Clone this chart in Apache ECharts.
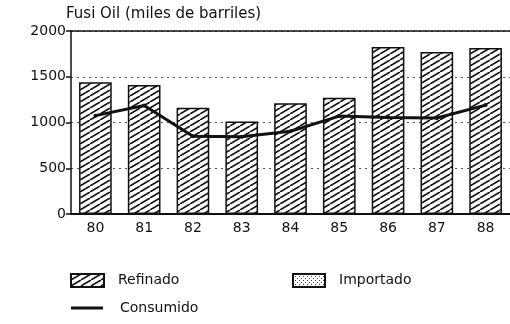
<!DOCTYPE html>
<html>
<head>
<meta charset="utf-8">
<script src="https://cdn.jsdelivr.net/npm/echarts@6/dist/echarts.min.js"></script>
<style>
  html, body { margin: 0; padding: 0; background: #fff; }
  #chart { width: 510px; height: 324px; }
</style>
</head>
<body>
<div id="chart"></div>
<script>
// Fuel oil, thousands of barrels, 1980-1988
const years = ['80', '81', '82', '83', '84', '85', '86', '87', '88'];
const refinado = [1440, 1410, 1160, 1010, 1210, 1270, 1825, 1770, 1815];
const importado = [null, null, null, null, null, null, null, null, null];
const consumido = [1075, 1185, 850, 845, 905, 1070, 1055, 1050, 1190];
const yTicks = [0, 500, 1000, 1500, 2000];

const FONT = 'DejaVu Sans';

// Diagonal hatch tile for the refined bars
function hatchPattern() {
  const c = document.createElement('canvas');
  const w = 10, h = 6;
  c.width = w; c.height = h;
  const g = c.getContext('2d');
  g.fillStyle = '#fff';
  g.fillRect(0, 0, w, h);
  g.strokeStyle = '#111';
  g.lineWidth = 1.6;
  for (const dx of [-w, 0, w]) {
    g.beginPath();
    g.moveTo(dx, h);
    g.lineTo(dx + w, 0);
    g.stroke();
  }
  return c;
}

// Sparse dot tile for the imported bars
function dotPattern() {
  const c = document.createElement('canvas');
  c.width = 4; c.height = 4;
  const g = c.getContext('2d');
  g.fillStyle = '#fff';
  g.fillRect(0, 0, 4, 4);
  g.fillStyle = '#444';
  g.fillRect(0, 0, 1, 1);
  g.fillRect(2, 2, 1, 1);
  return c;
}

const hatch = { image: hatchPattern(), repeat: 'repeat' };
const dots = { image: dotPattern(), repeat: 'repeat' };

const chart = echarts.init(document.getElementById('chart'), null, { renderer: 'canvas' });

const legendText = { fontFamily: FONT, fontSize: 14, color: '#111', padding: [0, 0, 0, 9] };

chart.setOption({
  animation: false,
  backgroundColor: '#fff',
  title: {
    text: 'Fusi Oil (miles de barriles)',
    left: 66, top: 7, padding: 0,
    textStyle: { fontFamily: FONT, fontSize: 15, fontWeight: 'normal', color: '#111' }
  },
  legend: [
    { data: [{ name: 'Refinado', icon: 'rect' }], left: 70, top: 273, padding: 0,
      itemWidth: 33, itemHeight: 13, textStyle: legendText },
    { data: [{ name: 'Importado', icon: 'rect' }], left: 292, top: 273, padding: 0,
      itemWidth: 32, itemHeight: 13, textStyle: legendText },
    { data: [{ name: 'Consumido', icon: 'rect' }], left: 71, top: 301, padding: 0,
      itemWidth: 32, itemHeight: 3, textStyle: Object.assign({}, legendText, { padding: [0, 0, 0, 12] }) }
  ],
  grid: { left: 71, right: 0, top: 31, bottom: 110 },
  xAxis: [
    {
      type: 'category',
      data: years,
      axisLine: { lineStyle: { color: '#111', width: 2 } },
      axisTick: { show: false },
      axisLabel: { fontFamily: FONT, fontSize: 14, color: '#111', margin: 7 }
    },
    {
      type: 'category',
      data: years,
      position: 'top',
      axisLine: { lineStyle: { color: '#111', width: 1.5 } },
      axisTick: { show: false },
      axisLabel: { show: false }
    }
  ],
  yAxis: {
    type: 'value',
    min: yTicks[0],
    max: yTicks[yTicks.length - 1],
    interval: 500,
    axisLine: { show: true, lineStyle: { color: '#111', width: 1.5 } },
    axisTick: { show: true, length: 5, lineStyle: { color: '#111', width: 1.5 } },
    axisLabel: { fontFamily: FONT, fontSize: 14, color: '#111', margin: 5,
      formatter: v => String(v) },
    splitLine: { lineStyle: { color: '#555', type: [2, 4], width: 1 } }
  },
  series: [
    {
      name: 'Refinado',
      type: 'bar',
      stack: 'oferta',
      data: refinado,
      barWidth: '67%',
      itemStyle: { color: hatch, borderColor: '#111', borderWidth: 1.5 }
    },
    {
      name: 'Importado',
      type: 'bar',
      stack: 'oferta',
      data: importado,
      itemStyle: { color: dots, borderColor: '#111', borderWidth: 1 }
    },
    {
      name: 'Consumido',
      type: 'line',
      data: consumido,
      symbol: 'circle',
      symbolSize: 4,
      itemStyle: { color: '#111' },
      lineStyle: { color: '#111', width: 3 },
      z: 5
    }
  ]
});
</script>
</body>
</html>
